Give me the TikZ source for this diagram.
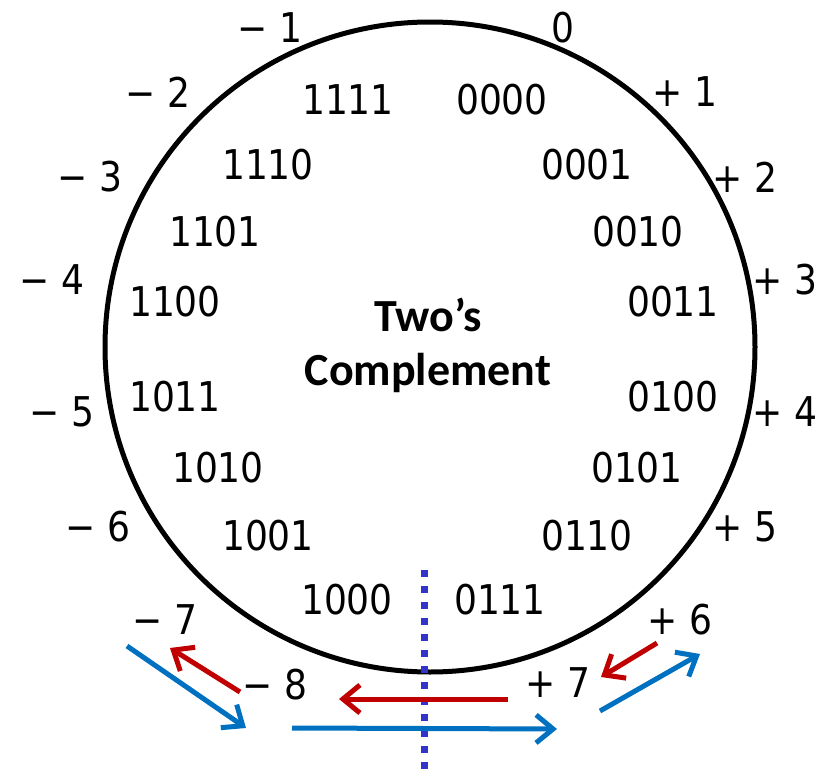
\documentclass[tikz,border=0pt]{standalone}
\usepackage{fontspec}
\setmainfont[FakeStretch=0.88]{DejaVu Sans}
\newfontfamily\titlefont{Carlito}
\usetikzlibrary{arrows.meta}

\definecolor{arrowred}{HTML}{C00000}
\definecolor{arrowblue}{HTML}{0070C0}
\definecolor{dotblue}{HTML}{3333CC}

\tikzset{
  code/.style={font=\fontsize{41}{41}\selectfont, inner sep=0pt},
  value/.style={font=\fontsize{41}{41}\selectfont, inner sep=0pt},
  redarrow/.style={draw=arrowred, line width=5pt, -{Straight Barb[length=17pt, width=28pt]}},
  bluearrow/.style={draw=arrowblue, line width=5pt, -{Straight Barb[length=17pt, width=28pt]}}
}

\begin{document}
\begin{tikzpicture}[x=1pt, y=-1pt]
        \useasboundingbox (0,0) rectangle (823,771);

        % the wheel
        \node[draw, circle, line width=5pt, minimum size=650pt, inner sep=0pt] (wheel) at (430,347) {};
        \node[font=\titlefont\bfseries\fontsize{46}{54}\selectfont, align=center] (title) at (428,345) {Two’s\\Complement};

        % bit patterns inside the wheel
        \foreach \bits/\x/\y in {0000/502/100, 0001/587/165, 0010/638/232, 0011/673/302,
                                 0100/673/397, 0101/637/468, 0110/587/536, 0111/500/600,
                                 1000/347/600, 1001/268/536, 1010/218/468, 1011/175/397,
                                 1100/175/302, 1101/215/232, 1110/268/165, 1111/348/100} {
            \node[code] (b\bits) at (\x,\y) {\bits};
        }

        % values round the outside
        \foreach \name/\val/\x/\y in {z/0/563/28, p1/+ 1/685/92, p2/+ 2/745/177, p3/+ 3/785/280,
                                      p4/+ 4/785/412, p5/+ 5/745/527, p6/+ 6/680/620, p7/+ 7/558/683,
                                      m8/− 8/275/685, m7/− 7/165/620, m6/− 6/98/527, m5/− 5/62/412,
                                      m4/− 4/52/280, m3/− 3/90/177, m2/− 2/158/92, m1/− 1/270/28} {
            \node[value] (v\name) at (\x,\y) {\val};
        }

        % dividing line
        \coordinate (divtop) at (424,570);
        \coordinate (divbot) at (424,771);
        \draw[dotblue, line width=7pt, dash pattern=on 7pt off 9pt] (divtop) -- (divbot);

        % overflow going down (red)
        \coordinate (ra1) at (240,692); \coordinate (ra2) at (170,648);
        \coordinate (rb1) at (508,699); \coordinate (rb2) at (339,699);
        \coordinate (rc1) at (657,643); \coordinate (rc2) at (601,677);
        \draw[redarrow] (ra1) -- (ra2);
        \draw[redarrow] (rb1) -- (rb2);
        \draw[redarrow] (rc1) -- (rc2);

        % overflow going up (blue)
        \coordinate (ba1) at (127,646); \coordinate (ba2) at (246,728);
        \coordinate (bb1) at (292,728); \coordinate (bb2) at (557,729);
        \coordinate (bc1) at (600,711); \coordinate (bc2) at (700,654);
        \draw[bluearrow] (ba1) -- (ba2);
        \draw[bluearrow] (bb1) -- (bb2);
        \draw[bluearrow] (bc1) -- (bc2);
\end{tikzpicture}
\end{document}
